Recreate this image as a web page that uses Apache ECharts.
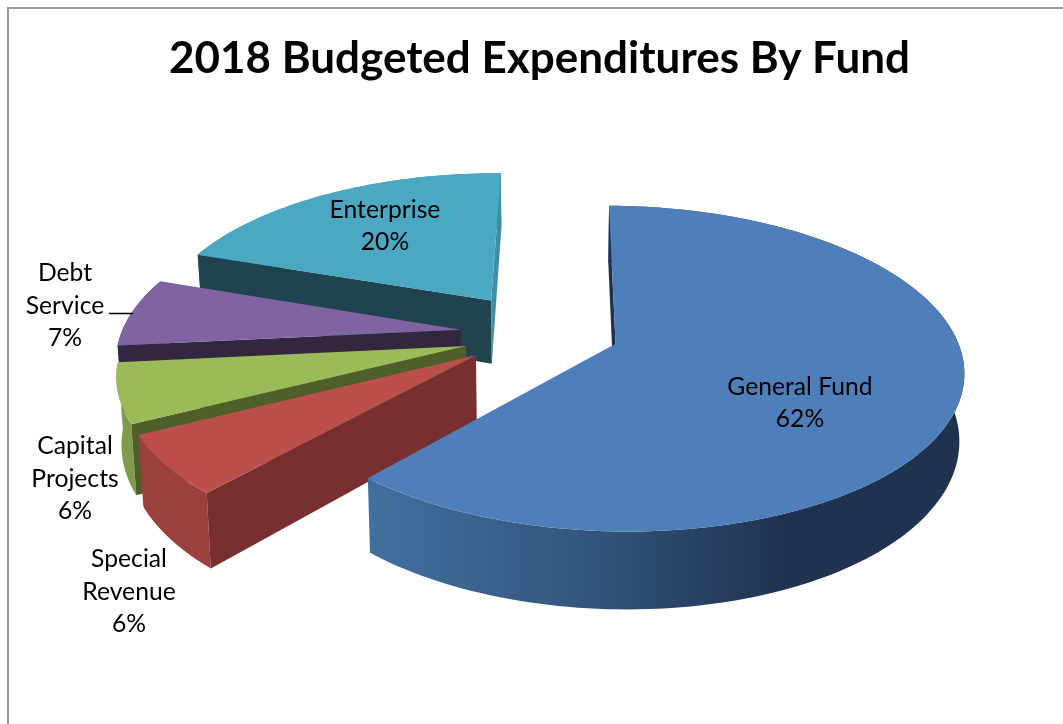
<!DOCTYPE html>
<html>
<head>
<meta charset="utf-8">
<style>html,body{margin:0;padding:0;background:#fff;overflow:hidden}#chart{width:1063px;height:724px}</style>
<script src="https://cdn.jsdelivr.net/npm/echarts@6/dist/echarts.min.js"></script>
</head>
<body>
<div id="chart"></div>
<script>
// Budget shares, clockwise from twelve o'clock
const categories = ['General Fund', 'Special\nRevenue', 'Capital\nProjects', 'Debt\nService', 'Enterprise'];
const shares = [62, 6, 6, 7, 20];
const chartTitle = '2018 Budgeted Expenditures By Fund';
const startDegrees = 0.5;

// Colours per slice: lid, rim wall stops, cut faces
const palette = [
  {top: '#4E7FBB', wall: [[0, '#41709F'], [0.35, '#34577F'], [0.7, '#1F3350'], [1, '#1F3350']], cut: '#1F3350'},
  {top: '#BD4F4B', wall: [[0, '#9C403D'], [1, '#9C403D']], cut: '#772F2F'},
  {top: '#9BBB59', wall: [[0, '#809C4B'], [1, '#809C4B']], cut: '#4F5F2A'},
  {top: '#8064A2', wall: [[0, '#6A5387'], [1, '#6A5387']], cut: '#33263F'},
  {top: '#4AA8C3', wall: [[0, '#3E8FA5'], [1, '#3E8FA5']], cut: '#1F4450', cutStart: '#1F4450', cutEnd: '#3E8FA5'}
];

// How far each slice is pulled out of the pie, in units of the radius
const explode = [[0.2, -0.002], [-0.205, 0.07], [-0.235, 0.012], [-0.255, -0.09], [-0.17, -0.285]];

// Perspective camera for the tilted disc
const camera = {cx: 547, horizon: -694, lid: 1038, thickness: 66, focal: 343, tilt: 0.1533, taper: 0.988};

// Text anchors for the data labels
const labelAt = [[800, 403], [129, 592], [75, 479], [65, 306], [385, 226]];

const total = shares.reduce((a, b) => a + b, 0);

function project(u, v, lower) {
  const w = 1 - camera.tilt * v;
  const k = lower ? camera.taper : 1;
  return [
    camera.cx + k * camera.focal * u / w,
    camera.horizon + (camera.lid + (lower ? camera.thickness : 0)) / w
  ];
}

function signedArea(pts) {
  let s = 0;
  pts.forEach((p, i) => {
    const q = pts[(i + 1) % pts.length];
    s += p[0] * q[1] - q[0] * p[1];
  });
  return s / 2;
}

function renderSlice(params, api) {
  const i = params.dataIndex;
  const before = shares.slice(0, i).reduce((a, b) => a + b, 0);
  const offset = startDegrees * Math.PI / 180;
  const a0 = offset + before / total * 2 * Math.PI;
  const a1 = offset + (before + api.value(1)) / total * 2 * Math.PI;
  const [ex, ey] = explode[i];
  const steps = Math.max(6, Math.round((a1 - a0) * 40));
  const rimTop = [], rimLow = [];
  for (let k = 0; k <= steps; k++) {
    const a = a0 + (a1 - a0) * k / steps;
    rimTop.push(project(ex + Math.sin(a), ey - Math.cos(a), false));
    rimLow.push(project(ex + Math.sin(a), ey - Math.cos(a), true));
  }
  const apexTop = project(ex, ey, false);
  const apexLow = project(ex, ey, true);
  const base = (palette.length - i) * 10;
  const colours = palette[i];
  const children = [];

  // Rim wall first so that the front-facing cut faces sit over it
  children.push({
    type: 'polygon', z2: base,
    shape: {points: rimTop.concat(rimLow.slice().reverse())},
    style: {fill: {type: 'linear', x: 0, y: 0, x2: 1, y2: 0,
      colorStops: colours.wall.map(s => ({offset: s[0], color: s[1]}))}}
  });

  // Cut faces are drawn only when they turn towards the viewer
  const startFace = [apexTop, rimTop[0], rimLow[0], apexLow];
  const endFace = [rimTop[steps], apexTop, apexLow, rimLow[steps]];
  if (signedArea(startFace) < 0) {
    children.push({type: 'polygon', z2: base + 1, shape: {points: startFace},
      style: {fill: colours.cutStart || colours.cut}});
  }
  if (signedArea(endFace) < 0) {
    children.push({type: 'polygon', z2: base + 1, shape: {points: endFace},
      style: {fill: colours.cutEnd || colours.cut}});
  }

  // Lid of the slice
  children.push({
    type: 'polygon', z2: base + 2,
    shape: {points: [apexTop].concat(rimTop)},
    style: {fill: colours.top}
  });

  children.push({
    type: 'text', z2: 500,
    x: labelAt[i][0], y: labelAt[i][1],
    style: {
      text: categories[i] + '\n' + api.value(1) + '%',
      fill: '#000', align: 'center', verticalAlign: 'middle',
      font: '24.7px Lato', lineHeight: 32.5
    }
  });
  return {type: 'group', children};
}

const chart = echarts.init(document.getElementById('chart'), null, {renderer: 'canvas'});
chart.setOption({
  animation: false,
  backgroundColor: '#fff',
  title: {
    text: chartTitle, left: 534.5, top: 32,
    textAlign: 'center',
    textStyle: {fontFamily: 'Lato', fontWeight: 'bold', fontSize: 44, color: '#000'}
  },
  graphic: [
    {type: 'rect', silent: true, z: -1, shape: {x: 8, y: 8, width: 1200, height: 900},
      style: {fill: 'none', stroke: '#9A9A9A', lineWidth: 2}},
    {type: 'line', silent: true, z: 5, shape: {x1: 109, y1: 313.5, x2: 133, y2: 313.5},
      style: {stroke: '#000', lineWidth: 1.5}}
  ],
  series: [{
    type: 'custom',
    coordinateSystem: 'none',
    silent: true,
    renderItem: renderSlice,
    data: shares.map((v, i) => [i, v])
  }]
});
</script>
</body>
</html>
